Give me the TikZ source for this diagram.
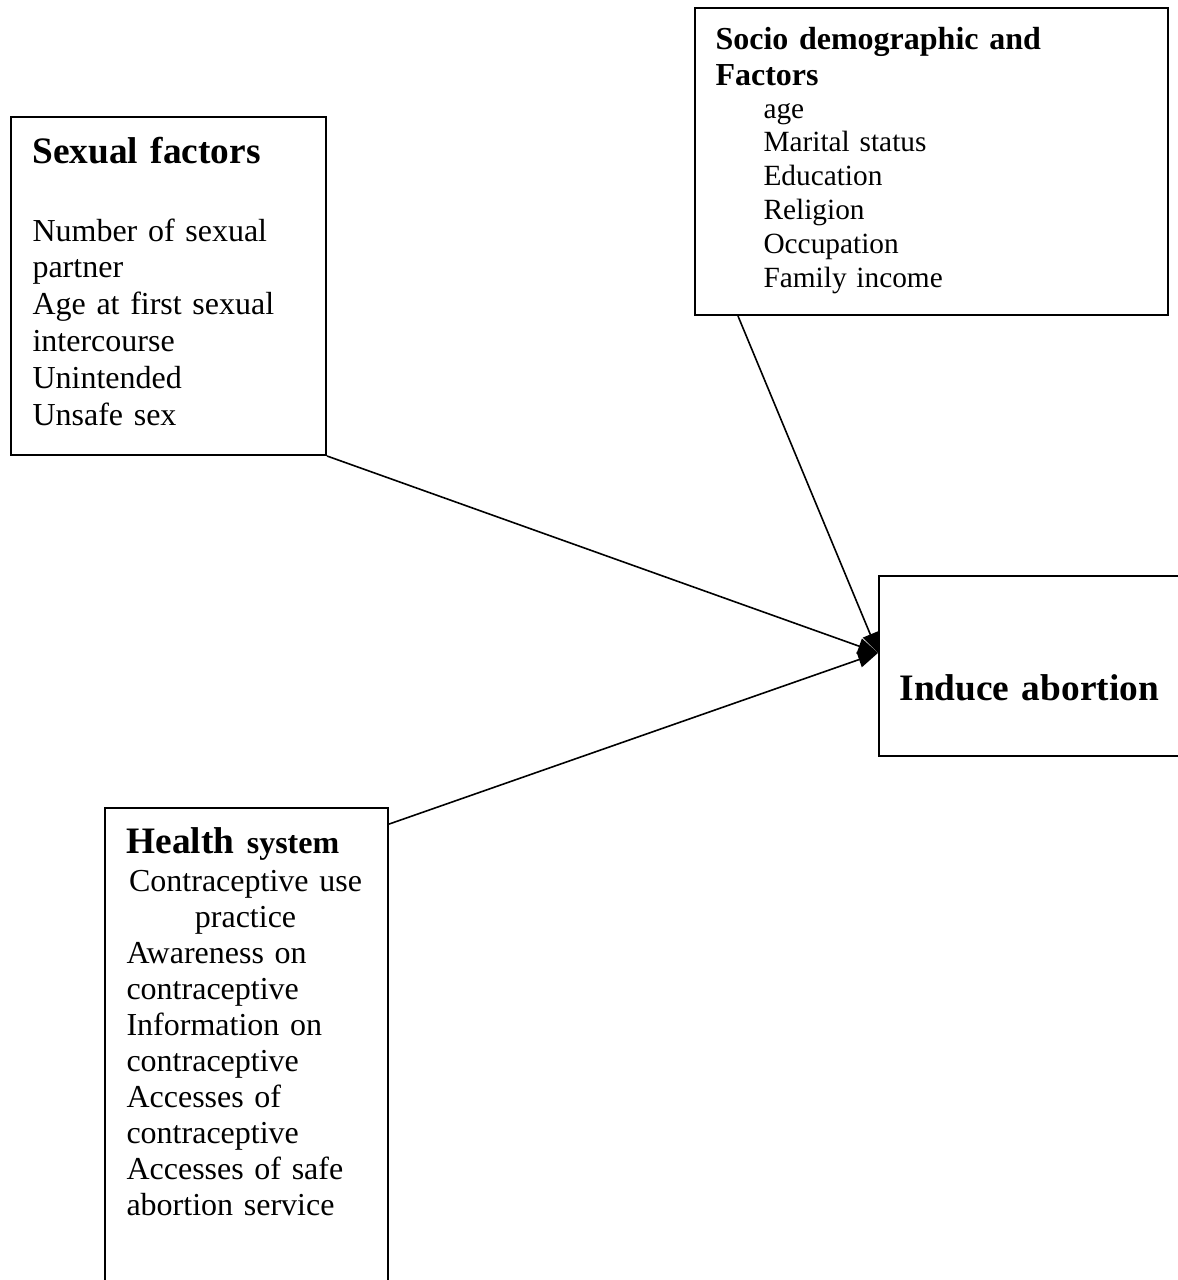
\documentclass[tikz,border=0pt]{standalone}
\usepackage{fontspec}
\setmainfont{Liberation Serif}
\usetikzlibrary{arrows.meta,positioning}
\tikzset{
  factor box/.style={draw, line width=0.75pt, inner sep=0pt, anchor=north west},
  box heading/.style={inner sep=0pt, anchor=base west, text width=#1, align=left,
    font=\bfseries\fontsize{14}{16}\selectfont},
  item list/.style={inner sep=0pt, anchor=base west, text width=#1, align=left,
    font=\fontsize{12}{13.8}\selectfont},
  link/.style={line width=0.6pt, -{Triangle[length=7.5pt,width=6pt]}},
}
\begin{document}
\begin{tikzpicture}[x=0.375pt,y=-0.375pt]
\useasboundingbox (0,0) rectangle (1178,1280);

\node[factor box, minimum width=118.13pt, minimum height=126.75pt] (sex) at (10,116) {};
\node[factor box, minimum width=177.38pt, minimum height=115.13pt] (soc) at (694,7) {};
\node[factor box, minimum width=116.25pt, minimum height=67.5pt] (ind) at (878,575) {};
\node[factor box, minimum width=106.13pt, minimum height=183.75pt] (hea) at (104,807) {};

\node[box heading=110pt] (sexhead) at (32,163) {Sexual factors};
\node[item list=110pt] (sexitems) at (32,241) {Number of sexual\\partner\\Age at first sexual\\intercourse\\Unintended\\Unsafe sex};

\node[box heading=160pt, font=\bfseries\fontsize{12}{13.5}\selectfont] (sochead) at (715,49) {Socio demographic and\\Factors};
\node[item list=140pt, font=\fontsize{11}{12.7}\selectfont] (socitems) at (763,118) {age\\Marital status\\Education\\Religion\\Occupation\\Family income};

\node[box heading=110pt] (indhead) at (899,700) {Induce abortion};

\node[box heading=100pt] (heahead) at (126,853) {Health {\fontsize{12}{14}\selectfont system}};
\node[item list=89.25pt, font=\fontsize{12}{13.5}\selectfont] (heaitems) at (126,891) {\centering Contraceptive use\\practice\par\raggedright Awareness on\\contraceptive\\Information on\\contraceptive\\Accesses of\\contraceptive\\Accesses of safe\\abortion service};

\coordinate (tip) at ([yshift=4.9pt]ind.west);
\coordinate (socfoot) at ([xshift=16.5pt]soc.south west);
\coordinate (heatop) at ([yshift=-6.4pt]hea.north east);

\draw[link] (sex.south east) -- (tip);
\draw[link] (socfoot) -- (tip);
\draw[link] (heatop) -- (tip);
\end{tikzpicture}
\end{document}
